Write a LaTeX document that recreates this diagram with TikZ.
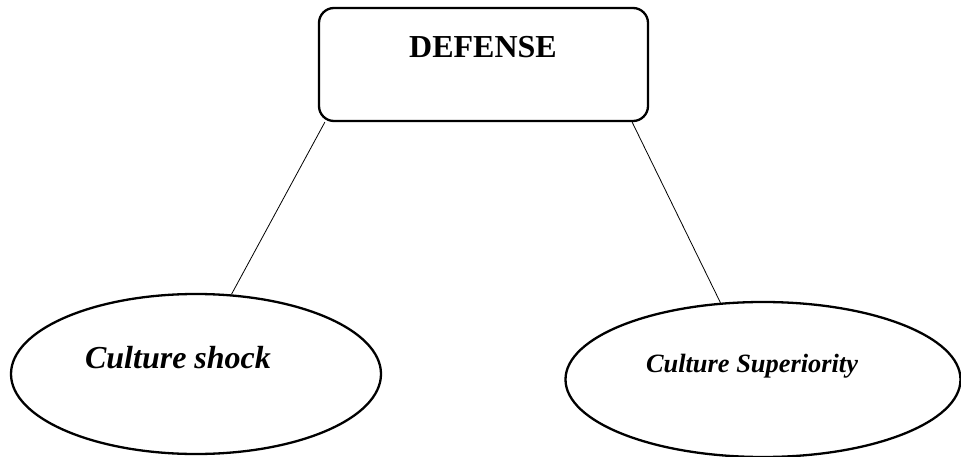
\documentclass[tikz,border=0pt]{standalone}
\usepackage{fontspec}
\setmainfont{Liberation Serif}
\usetikzlibrary{shapes.geometric}

\tikzset{
  topbox/.style={draw, line width=2.3pt, rounded corners=15pt, rectangle,
    minimum width=329pt, minimum height=113pt, inner sep=0pt},
  bubble/.style={draw, line width=2.3pt, ellipse, inner sep=0pt},
  caption/.style={inner sep=0pt, anchor=base},
  link/.style={line width=0.8pt}
}

\begin{document}
\begin{tikzpicture}[x=1pt, y=-1pt]
  \useasboundingbox (0,0) rectangle (961,457);

  % top concept box and its title
  \node[topbox] (defense) at (483.5,64.5) {};
  \node[caption, font=\fontsize{32}{38}\selectfont\bfseries] (deftitle) at (483,58) {DEFENSE};

  % the two outcome ellipses
  \node[bubble, minimum width=370pt, minimum height=160pt] (shock) at (196,374) {};
  \node[bubble, minimum width=395pt, minimum height=155pt] (superior) at (763,379.5) {};

  \node[caption, font=\fontsize{32}{38}\selectfont\bfseries\itshape] (shocktext) at (178,368) {Culture shock};
  \node[caption, font=\fontsize{26.4}{32}\selectfont\bfseries\itshape] (supertext) at (752,372) {Culture Superiority};

  % connectors
  \draw[link] ([xshift=7pt]defense.south west) -- (shock.66.7);
  \draw[link] ([xshift=-17pt]defense.south east) -- (superior.119);
\end{tikzpicture}
\end{document}
